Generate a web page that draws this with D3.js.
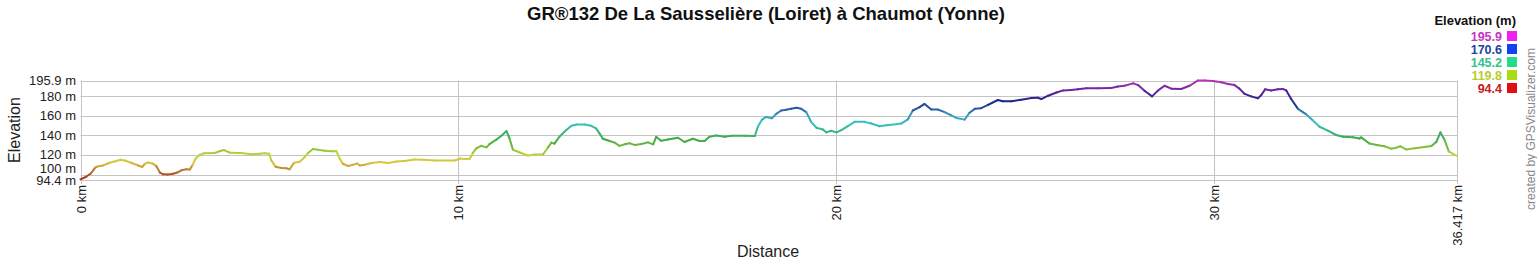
<!DOCTYPE html>
<html>
<head>
<meta charset="utf-8">
<script src="https://cdn.jsdelivr.net/npm/d3@7"></script>
<style>
    body { margin: 0; background: #fff; }
    text { font-family: Arial, "Liberation Sans", sans-serif; }
</style>
</head>
<body>
<div id="chart"></div>
<script>
const chartTitle = "GR®132 De La Sausselière (Loiret) à Chaumot (Yonne)";

// profile: distance (km) and elevation (m)
const distanceKm = [
    0, 0.15, 0.27, 0.39, 0.46, 0.6, 0.77, 0.9, 1.06, 1.17, 1.34, 1.52, 1.63, 1.7, 1.79, 1.92,
    2.01, 2.1, 2.18, 2.31, 2.45, 2.56, 2.67, 2.8, 2.89, 2.96, 3.04, 3.15, 3.27, 3.55, 3.68, 3.79,
    3.95, 4.25, 4.52, 4.74, 4.87, 4.99, 5.05, 5.16, 5.31, 5.45, 5.53, 5.65, 5.8, 5.93,
    6.02, 6.15, 6.28, 6.46, 6.64, 6.77, 6.86, 6.94, 7.08, 7.21, 7.32, 7.39, 7.52, 7.7, 7.92,
    8.14, 8.36, 8.58, 8.84, 9.06, 9.37, 9.9, 10.06, 10.16, 10.3, 10.38, 10.47, 10.6, 10.74,
    10.82, 11.0, 11.16, 11.27, 11.35, 11.44, 11.66, 11.84, 12.01,
    12.24, 12.37, 12.46, 12.54, 12.67, 12.85, 12.99, 13.12, 13.34, 13.51, 13.64, 13.73, 13.82,
    14.0, 14.13, 14.26, 14.4, 14.53, 14.66, 14.84, 15.01, 15.15, 15.23, 15.36, 15.54, 15.81,
    15.98, 16.2, 16.38, 16.51, 16.64, 16.82, 17.04, 17.22, 17.57, 17.84, 17.92, 18.03, 18.14,
    18.29, 18.41, 18.54, 18.67, 18.8, 18.94, 19.07, 19.2, 19.33, 19.47, 19.64, 19.73, 19.86,
    20.0, 20.13, 20.3, 20.48, 20.74, 20.92, 21.14, 21.32, 21.58, 21.71, 21.89, 22.02, 22.2,
    22.33, 22.51, 22.68, 22.86, 23.04, 23.17, 23.39, 23.52, 23.66, 23.83, 24.01, 24.27,
    24.4, 24.63, 24.89, 25.16, 25.33, 25.42, 25.6, 25.82, 26.0, 26.21, 26.39, 26.61, 26.92,
    27.27, 27.45, 27.62, 27.85, 27.98, 28.15, 28.35, 28.51, 28.68, 28.86, 29.12, 29.34, 29.56,
    29.74, 29.96, 30.18,
    30.36, 30.53, 30.66, 30.8, 30.97, 31.15, 31.24, 31.34, 31.5, 31.68, 31.81, 31.9, 32.03,
    32.21, 32.43, 32.6, 32.78, 33.0, 33.22, 33.4, 33.66, 33.84, 33.88, 34.1, 34.33, 34.5,
    34.68, 34.81, 34.92, 35.07, 35.3, 35.56, 35.74, 35.87, 35.98, 36.09, 36.2, 36.31, 36.417
];
const elevationM = [
    95, 97.7, 101, 107, 108.3, 109.3, 112, 113.3, 115, 114.3, 112, 109.3, 107.7, 110.7, 112.3, 111,
    108.3, 102, 100.3, 100, 100.7, 102, 104.3, 105.3, 105, 109.3, 116, 120, 121.7, 122, 123.7, 125,
    122.3, 122, 120.7, 121.3, 121.7, 121.3, 114.3, 108, 106.7, 106.3, 105.3, 112, 113, 117.7,
    122, 126, 125.3, 124.3, 123.7, 123.7, 116, 111, 108.7, 110, 111.3, 109.3, 110, 111.7, 112.7,
    111.7, 113.3, 113.7, 115.3, 115, 114.3, 114.3, 116.3, 115.7, 116, 122, 126.7, 129.3, 127.7,
    131, 135.5, 140.3, 144.3, 137, 125.3, 122, 119.3, 120.3,
    120.7, 127.7, 132.5, 131.5, 138.5, 145.3, 149.7, 151, 151, 149.7, 147, 142, 136.5,
    134.2, 132.5, 129.2, 130.8, 131.8, 130.2, 131.2, 132.8, 130.8, 138.5, 134.5, 135.8, 137.5,
    133.2, 136.5, 134.2, 134.2, 138.5, 139.8, 138.5, 139.5, 139.5, 139.3, 148.7, 156, 158.7,
    157.3, 162, 165.3, 166, 167, 168, 167, 163.7, 153.7, 147.7, 146, 143, 144.7,
    143, 145.3, 149.3, 153.7, 153.7, 152, 149.3, 150.3, 151.3, 152, 156.3, 165.3, 168.7,
    172, 166.3, 166.3, 163.7, 160.3, 157.7, 156, 163, 167, 167.7, 171, 176,
    174.7, 174.7, 176.3, 178, 178.3, 177, 180.4, 183.6, 185.8, 186.1, 186.9, 187.9, 187.9,
    188.3, 189.7, 190.5, 193, 191.2, 185.4, 179.7, 185.8, 190.5, 187.6, 187.2, 190.5, 195.9,
    195.9, 195.5, 194.1,
    192.3, 191.2, 187.6, 182.2, 179.7, 177.7, 181.1, 186.9, 185.8, 186.9, 187.2, 185.8, 177,
    167, 161.3, 155.3, 148.7, 144.7, 140.3, 138.6, 137.9, 136.8, 137.9, 131.6, 129.8, 128.8,
    126.3, 127.4, 128.8, 125.6, 126.7, 128.1, 129.1, 133.3, 143, 135.1, 123.5, 121, 119
];

// axes
const yTicks = [94.4, 100, 120, 140, 160, 180, 195.9];
const xTicks = [0, 10, 20, 30, 36.417];

// colour legend
const legendValues = [195.9, 170.6, 145.2, 119.8, 94.4];
const legendTextColors = ["#c535c5", "#1c45a0", "#35c090", "#b8cc30", "#c42020"];
const legendSwatchColors = ["#ee22ee", "#1144ee", "#22dd88", "#aadd11", "#dd1111"];

// line colour by elevation
const colorStops = [94.4, 103, 112, 120, 128, 136, 145, 152, 160, 167, 174, 182, 190, 195.9];
const colorValues = ["#a02820", "#b8682a", "#d8c440", "#c4d23e", "#80be3c", "#40a846", "#38b888",
    "#38c2c0", "#3a9cc0", "#2a5aa0", "#1a2688", "#4a2098", "#8a28a8", "#b834b8"];

function drawChart() {
    const width = 1537, height = 260;
    const svg = d3.select("#chart").append("svg")
        .attr("width", width)
        .attr("height", height);

    const x = d3.scaleLinear().domain([0, 36.417]).range([80.5, 1457]);
    const y = d3.scaleLinear().domain([94.4, 195.9]).range([180, 80.5]);
    const color = d3.scaleLinear().domain(colorStops).range(colorValues);

    // title
    svg.append("text")
        .attr("x", 766).attr("y", 20)
        .attr("text-anchor", "middle")
        .attr("font-size", "18.5px")
        .attr("font-weight", "bold")
        .attr("fill", "#111")
        .text(chartTitle);

    // grid
    const grid = svg.append("g").attr("stroke", "#c4c4c4").attr("stroke-width", 1);
    grid.selectAll(".h").data(yTicks).enter().append("line")
        .attr("x1", x(0)).attr("x2", x(36.417))
        .attr("y1", d => Math.round(y(d)) + 0.5)
        .attr("y2", d => Math.round(y(d)) + 0.5);
    grid.selectAll(".v").data(xTicks).enter().append("line")
        .attr("x1", d => Math.round(x(d)) + 0.5)
        .attr("x2", d => Math.round(x(d)) + 0.5)
        .attr("y1", y(195.9)).attr("y2", y(94.4) + 4);

    // y tick labels, nudge the crowded ones apart
    const yLabels = svg.append("g").attr("font-size", "13px").attr("fill", "#222");
    yTicks.forEach((t, i) => {
        let ty = y(t) + 4.5;
        if (i === 1 && y(yTicks[0]) - y(t) < 12) ty = y(yTicks[0]) - 12 + 4.5;
        yLabels.append("text")
            .attr("x", 76).attr("y", ty)
            .attr("text-anchor", "end")
            .text(t + " m");
    });

    // x tick labels, rotated
    svg.append("g").attr("font-size", "13px").attr("fill", "#222")
        .selectAll("text").data(xTicks).enter().append("text")
        .attr("transform", d => `translate(${x(d) + 5},185) rotate(-90)`)
        .attr("text-anchor", "end")
        .text(d => d + " km");

    // axis titles
    svg.append("text")
        .attr("transform", "translate(20,130) rotate(-90)")
        .attr("text-anchor", "middle")
        .attr("font-size", "16px")
        .attr("fill", "#222")
        .text("Elevation");
    svg.append("text")
        .attr("x", 768).attr("y", 257)
        .attr("text-anchor", "middle")
        .attr("font-size", "16px")
        .attr("fill", "#222")
        .text("Distance");

    // profile drawn as coloured segments
    const segments = d3.pairs(d3.range(distanceKm.length));
    svg.append("g")
        .attr("stroke-width", 2)
        .attr("stroke-linecap", "round")
        .selectAll("line").data(segments).enter().append("line")
        .attr("x1", d => x(distanceKm[d[0]]))
        .attr("y1", d => y(elevationM[d[0]]))
        .attr("x2", d => x(distanceKm[d[1]]))
        .attr("y2", d => y(elevationM[d[1]]))
        .attr("stroke", d => color((elevationM[d[0]] + elevationM[d[1]]) / 2));

    // legend
    const legend = svg.append("g");
    legend.append("text")
        .attr("x", 1516).attr("y", 25)
        .attr("text-anchor", "end")
        .attr("font-size", "13px")
        .attr("font-weight", "bold")
        .attr("fill", "#111")
        .text("Elevation (m)");
    legendValues.forEach((v, i) => {
        legend.append("rect")
            .attr("x", 1507).attr("y", 31 + i * 13)
            .attr("width", 10).attr("height", 10)
            .attr("fill", legendSwatchColors[i]);
        legend.append("text")
            .attr("x", 1502).attr("y", 40.5 + i * 13)
            .attr("text-anchor", "end")
            .attr("font-size", "12.5px")
            .attr("font-weight", "bold")
            .attr("fill", legendTextColors[i])
            .text(v);
    });

    // credit
    svg.append("text")
        .attr("transform", "translate(1535,129) rotate(-90)")
        .attr("text-anchor", "middle")
        .attr("font-size", "12px")
        .attr("fill", "#888")
        .text("created by GPSVisualizer.com");
}

drawChart();
</script>
</body>
</html>
